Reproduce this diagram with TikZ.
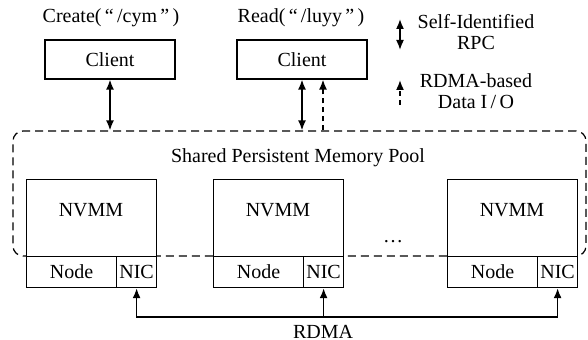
\documentclass[tikz,border=0pt]{standalone}
\usepackage{fontspec}
\setmainfont{Liberation Serif}
\usetikzlibrary{positioning,arrows.meta}
\tikzset{
  box/.style={draw,semithick,fill=white,inner sep=0pt},
  rpc/.style={thick,{Latex[length=5pt,width=4pt]}-{Latex[length=5pt,width=4pt]}},
  rdmaio/.style={thick,-{Latex[length=5pt,width=4pt]},dash pattern=on 2.5pt off 2pt},
  link/.style={thick,-{Latex[length=5pt,width=4pt]}},
  legend/.style={align=center,font=\fontsize{10}{10.5}\selectfont},
}
\begin{document}
\begin{tikzpicture}[x=0.5pt,y=-0.5pt]
    \useasboundingbox (0,0) rectangle (588,340);
    % memory pool frame
    \node[draw,semithick,dash pattern=on 4pt off 2.5pt,rounded corners=5pt,
        minimum width=286.5pt,minimum height=62.5pt,inner sep=0pt] (pool) at (299.5,193.5) {};
    \node (poollbl) at (298,158) {Shared Persistent Memory Pool};
    % servers
    \foreach \n/\x in {A/26,B/213,C/447}{
        \node[box,minimum width=65pt,minimum height=38.5pt,anchor=north west] (nvm\n) at (\x,179) {};
        \node (nvmlbl\n) at (\x+65,210) {NVMM};
        \node[box,minimum width=45pt,minimum height=15.5pt,anchor=north west] (node\n) at (\x,256) {Node};
        \node[box,minimum width=20pt,minimum height=15.5pt,anchor=north west] (nic\n) at (\x+90,256) {NIC};
    }
    \node (dots) at (393,242) {\dots};
    % clients
    \node[box,minimum width=65pt,minimum height=19.5pt] (cliA) at (110,59.5) {Client};
    \node[box,minimum width=65pt,minimum height=19.5pt] (cliB) at (302,59.5) {Client};
    \node (opA) at (111,18) {Create(\,“\,/cym\,”\,)};
    \node (opB) at (301,18) {Read(\,“\,/luyy\,”\,)};
    \draw[rpc] (cliA) -- (cliA |- pool.north);
    \draw[rpc] (cliB) -- (cliB |- pool.north);
    \coordinate (ioB) at ([xshift=10.5pt]cliB.south);
    \draw[rdmaio] (ioB |- pool.north) -- (ioB);
    % rdma network
    \coordinate (bus) at (300,317);
    \draw[rpc] (nicA.south) |- (bus) -| (nicC.south);
    \draw[link] (nicB.south |- bus) -- (nicB.south);
    \node (rdma) at (323,332) {RDMA};
    % legend
    \coordinate (lgrpcT) at (400,19);
    \coordinate (lgrpcB) at (400,50);
    \draw[rpc] (lgrpcT) -- (lgrpcB);
    \node[legend] (lgrpc) at (476,32) {Self-Identified\\RPC};
    \coordinate (lgioT) at (400,80);
    \coordinate (lgioB) at (400,105);
    \draw[rdmaio] (lgioB) -- (lgioT);
    \node[legend] (lgio) at (476,91) {RDMA-based\\Data I\,/\,O};
\end{tikzpicture}
\end{document}
